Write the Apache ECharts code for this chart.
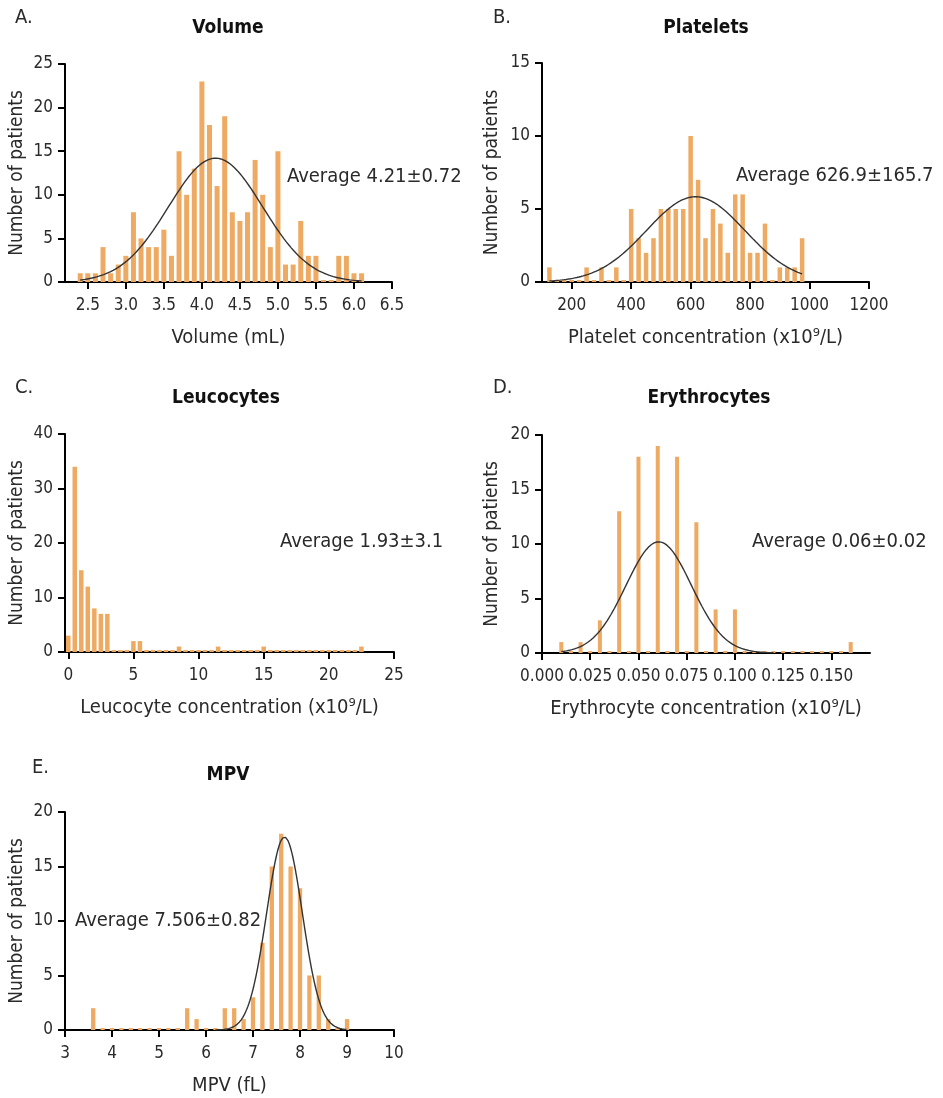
<!DOCTYPE html>
<html><head><meta charset="utf-8">
<script src="https://cdn.jsdelivr.net/npm/echarts@6/dist/echarts.min.js"></script>
<style>html,body{margin:0;padding:0;background:#fff}#c{width:943px;height:1098px}</style>
</head><body><div id="c"></div>
<script>
const FONT = "'DejaVu Sans Condensed', 'DejaVu Sans', sans-serif";

// ---- A. Volume ----
const volumeBins = [2.4,2.5,2.6,2.7,2.8,2.9,3.0,3.1,3.2,3.3,3.4,3.5,3.6,3.7,3.8,3.9,4.0,4.1,4.2,4.3,4.4,4.5,4.6,4.7,4.8,4.9,5.0,5.1,5.2,5.3,5.4,5.5,5.6,5.7,5.8,5.9,6.0,6.1];
const volumeCounts = [1,1,1,4,1,2,3,8,5,4,4,6,3,15,10,13,23,18,11,19,8,7,8,14,10,4,15,2,2,7,3,3,0,0,3,3,1,1];
const volumeTicks = [2.5,3.0,3.5,4.0,4.5,5.0,5.5,6.0,6.5];
const volumeFit = [4.18, 0.62, 14.2, 2.4, 6.1]; // mean, sd, peak, from, to

// ---- B. Platelets ----
const plateletBins = [125,150,175,200,225,250,275,300,325,350,375,400,425,450,475,500,525,550,575,600,625,650,675,700,725,750,775,800,825,850,875,900,925,950,975];
const plateletCounts = [1,0,0,0,0,1,0,1,0,1,0,5,3,2,3,5,5,5,5,10,7,3,5,4,2,6,6,2,2,4,0,1,1,1,3];
const plateletTicks = [200,400,600,800,1000,1200];
const plateletFit = [617, 165, 5.84, 125, 975];

// ---- C. Leucocytes ----
const leucoBins = [0,0.5,1,1.5,2,2.5,3,3.5,4,4.5,5,5.5,6,6.5,7,7.5,8,8.5,9,9.5,10,10.5,11,11.5,12,12.5,13,13.5,14,14.5,15,15.5,16,16.5,17,17.5,18,18.5,19,19.5,20,20.5,21,21.5,22,22.5];
const leucoCounts = [3,34,15,12,8,7,7,0,0,0,2,2,0,0,0,0,0,1,0,0,0,0,0,1,0,0,0,0,0,0,1,0,0,0,0,0,0,0,0,0,0,0,0,0,0,1];
const leucoTicks = [0,5,10,15,20,25];

// ---- D. Erythrocytes ----
const erythroBins = [0.010,0.015,0.020,0.025,0.030,0.035,0.040,0.045,0.050,0.055,0.060,0.065,0.070,0.075,0.080,0.085,0.090,0.095,0.100,0.105,0.110,0.115,0.120,0.125,0.130,0.135,0.140,0.145,0.150,0.155,0.160];
const erythroCounts = [1,0,1,0,3,0,13,0,18,0,19,0,18,0,12,0,4,0,4,0,0,0,0,0,0,0,0,0,0,0,1];
const erythroTicks = [0,0.025,0.05,0.075,0.1,0.125,0.15];
const erythroFit = [0.0605, 0.017, 10.2, 0.01, 0.12];

// ---- E. MPV ----
const mpvBins = [3.6,3.8,4.0,4.2,4.4,4.6,4.8,5.0,5.2,5.4,5.6,5.8,6.0,6.2,6.4,6.6,6.8,7.0,7.2,7.4,7.6,7.8,8.0,8.2,8.4,8.6,8.8,9.0];
const mpvCounts = [2,0,0,0,0,0,0,0,0,0,2,1,0,0,2,2,1,3,8,15,18,15,13,5,5,1,0,1];
const mpvTicks = [3,4,5,6,7,8,9,10];
const mpvFit = [7.67, 0.38, 17.7, 6.2, 9.0];

function fitCurve(fit){
  const [mean, sd, peak, from, to] = fit;
  const pts = [];
  const n = 240;
  for (let i = 0; i <= n; i++) {
    const x = from + (to - from) * i / n;
    pts.push([x, peak * Math.exp(-0.5 * Math.pow((x - mean) / sd, 2))]);
  }
  return pts;
}

const panels = [
  {grid:{left:65, top:64, width:327, height:218}, xmin:2.2, xmax:6.5, ticks:volumeTicks, fmt:v=>v.toFixed(1),
   ymax:25, yint:5, bins:volumeBins, counts:volumeCounts, fit:volumeFit, bw:5, xname:'Volume (mL)', ygap:38},
  {grid:{left:542, top:63, width:327, height:219}, xmin:100, xmax:1200, ticks:plateletTicks, fmt:v=>String(v),
   ymax:15, yint:5, bins:plateletBins, counts:plateletCounts, fit:plateletFit, bw:4.5, xname:'Platelet concentration (x10\u2079/L)', ygap:40},
  {grid:{left:65, top:434, width:329, height:218}, xmin:-0.25, xmax:25, ticks:leucoTicks, fmt:v=>String(v),
   ymax:40, yint:10, bins:leucoBins, counts:leucoCounts, fit:null, bw:4.5, xname:'Leucocyte concentration (x10\u2079/L)', ygap:38},
  {grid:{left:542, top:435, width:328, height:218}, xmin:0, xmax:0.17, ticks:erythroTicks, fmt:v=>v.toFixed(3),
   ymax:20, yint:5, bins:erythroBins, counts:erythroCounts, fit:erythroFit, bw:4, xname:'Erythrocyte concentration (x10\u2079/L)', ygap:40},
  {grid:{left:65, top:812, width:329, height:218}, xmin:3, xmax:10, ticks:mpvTicks, fmt:v=>String(v),
   ymax:20, yint:5, bins:mpvBins, counts:mpvCounts, fit:mpvFit, bw:4.3, xname:'MPV (fL)', ygap:38}
];

const axisLine = {show:true, onZero:false, lineStyle:{color:'#000', width:2}};
const axisTick = {show:true, length:7, lineStyle:{color:'#000', width:2}};
const labelStyle = {color:'#2a2a2a', fontFamily:FONT, fontSize:17};
const nameStyle = {color:'#2a2a2a', fontFamily:FONT, fontSize:20};

const grids = [], xAxes = [], yAxes = [], series = [];
panels.forEach((p, i) => {
  grids.push(Object.assign({containLabel:false}, p.grid));
  xAxes.push({
    type:'value', gridIndex:i, min:p.xmin, max:p.xmax,
    axisLine, splitLine:{show:false},
    axisTick:Object.assign({customValues:p.ticks}, axisTick),
    axisLabel:Object.assign({customValues:p.ticks, formatter:p.fmt, margin:15}, labelStyle),
    name:p.xname, nameLocation:'middle', nameGap:46, nameTextStyle:nameStyle
  });
  yAxes.push({
    type:'value', gridIndex:i, min:0, max:p.ymax, interval:p.yint,
    axisLine, splitLine:{show:false}, axisTick,
    axisLabel:Object.assign({margin:12}, labelStyle),
    name:'Number of patients', nameLocation:'middle', nameGap:p.ygap,
    nameTextStyle:Object.assign({}, nameStyle, {fontSize:19})
  });
  series.push({
    type:'bar', xAxisIndex:i, yAxisIndex:i, barWidth:p.bw, barMinHeight:2,
    data:p.bins.map((b, k) => [b, p.counts[k]]),
    itemStyle:{color:'#EEA962'}, silent:true
  });
  if (p.fit) {
    series.push({
      type:'line', xAxisIndex:i, yAxisIndex:i, showSymbol:false, symbol:'none', z:5,
      data:fitCurve(p.fit), lineStyle:{color:'#333', width:1.4}, silent:true
    });
  }
});

function txt(text, x, y, size, bold, align){
  return {type:'text', x, y, silent:true, style:{
    text, font:(bold?'bold ':'') + size + 'px ' + FONT, fill: bold ? '#111' : '#2a2a2a',
    align: align || 'left', textAlign: align || 'left', verticalAlign:'middle', textVerticalAlign:'middle'}};
}

const graphics = [
  txt('A.', 15, 18, 20), txt('B.', 493, 18, 20), txt('C.', 15, 388, 20), txt('D.', 493, 388, 20), txt('E.', 32, 768, 20),
  txt('Volume', 228, 28, 19, true, 'center'),
  txt('Platelets', 706, 28, 19, true, 'center'),
  txt('Leucocytes', 226, 398, 19, true, 'center'),
  txt('Erythrocytes', 709, 398, 19, true, 'center'),
  txt('MPV', 228, 775, 19, true, 'center'),
  txt('Average 4.21\u00b10.72', 287, 177, 20),
  txt('Average 626.9\u00b1165.7', 736, 176, 20),
  txt('Average 1.93\u00b13.1', 280, 542, 20),
  txt('Average 0.06\u00b10.02', 752, 542, 20),
  txt('Average 7.506\u00b10.82', 75, 921, 20)
];

const chart = echarts.init(document.getElementById('c'), null, {renderer:'canvas'});
chart.setOption({
  animation:false, backgroundColor:'#fff',
  grid:grids, xAxis:xAxes, yAxis:yAxes, series, graphic:graphics
});
</script></body></html>
